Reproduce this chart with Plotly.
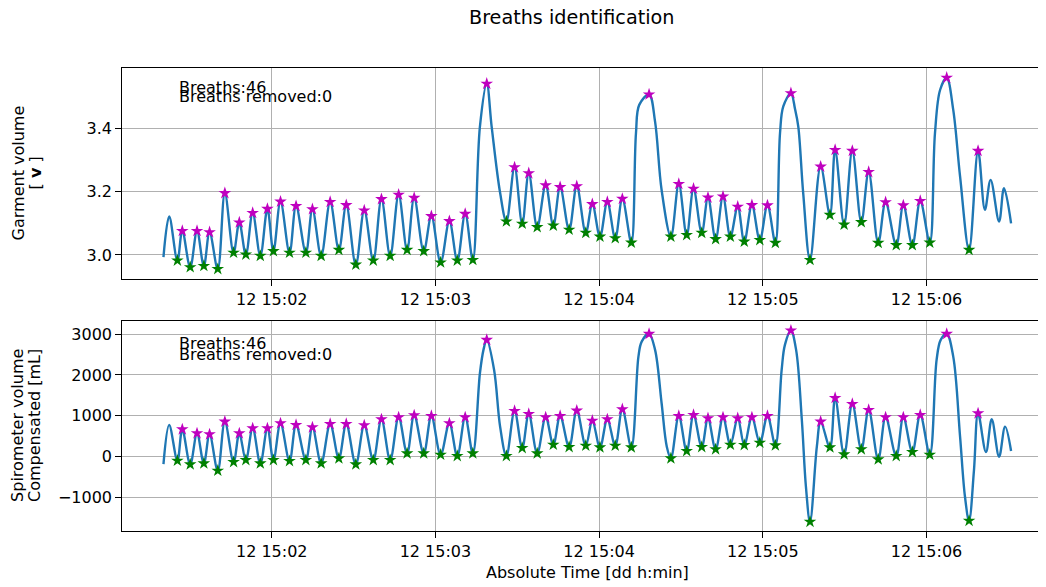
import pandas as pd
import plotly.graph_objects as go
from plotly.subplots import make_subplots

# ---------------- data (seconds after 12 15:01:00) ----------------
BASE = "2023-06-12 15:01:00"

trough_t = [25.4, 30.1, 35.1, 40.2, 46.0, 50.5, 55.8, 60.6, 66.5, 72.5,
            78.1, 84.6, 90.8, 97.2, 103.4, 109.6, 115.7, 121.9, 128.0, 133.7,
            146.0, 151.8, 157.3, 163.2, 169.0, 175.1, 180.3, 185.9, 191.8,
            206.3, 212.1, 217.6, 222.7, 228.1, 233.2, 238.9, 244.6,
            257.3, 264.6, 269.8, 276.1, 282.3, 288.9, 294.8, 301.2, 315.6]
peak_t = [27.2, 32.6, 37.2, 42.8, 48.1, 53.0, 58.4, 63.2, 68.9, 74.9,
          81.4, 87.3, 93.9, 100.2, 106.5, 112.2, 118.5, 125.1, 130.9, 138.8,
          149.0, 154.2, 160.4, 165.7, 171.8, 177.5, 183.0, 188.5, 198.3,
          209.2, 214.6, 219.9, 225.4, 230.8, 236.0, 241.7, 250.3,
          261.2, 266.5, 272.8, 278.8, 285.0, 291.5, 297.7, 307.4, 318.9]

trough_garment = [2.982, 2.961, 2.965, 2.955, 3.007, 3.001, 2.997, 3.012, 3.007, 3.007,
                  2.997, 3.016, 2.969, 2.982, 2.997, 3.016, 3.012, 2.976, 2.982, 2.984,
                  3.106, 3.099, 3.088, 3.093, 3.080, 3.070, 3.058, 3.053, 3.039,
                  3.058, 3.063, 3.070, 3.050, 3.058, 3.042, 3.047, 3.038,
                  2.984, 3.127, 3.096, 3.104, 3.038, 3.031, 3.031, 3.039, 3.016]
peak_garment = [3.076, 3.076, 3.072, 3.196, 3.103, 3.133, 3.146, 3.169, 3.155, 3.145,
                3.168, 3.158, 3.141, 3.177, 3.191, 3.181, 3.123, 3.107, 3.130, 3.543,
                3.278, 3.259, 3.221, 3.215, 3.218, 3.161, 3.168, 3.178, 3.509,
                3.225, 3.210, 3.182, 3.185, 3.153, 3.158, 3.157, 3.513,
                3.280, 3.333, 3.330, 3.263, 3.167, 3.157, 3.171, 3.562, 3.330]

trough_spiro = [-98, -187, -163, -342, -130, -81, -163, -81, -106, -81,
                -163, -41, -187, -81, -81, 82, 82, 49, 17, 82,
                17, 213, 82, 294, 237, 269, 229, 269, 229,
                -41, 139, 237, 181, 294, 286, 343, 278,
                -1591, 229, 57, 181, -65, 17, 115, 49, -1567]
peak_spiro = [670, 572, 547, 857, 572, 694, 694, 817, 776, 719,
              800, 800, 768, 915, 964, 1013, 996, 817, 964, 2857,
              1119, 1045, 964, 996, 1126, 881, 915, 1160, 3004,
              996, 1021, 940, 964, 940, 964, 996, 3084,
              857, 1437, 1290, 1143, 964, 964, 1021, 3004, 1062]

# other points of the traced signal (start, big-breath flanks, tail)
extra_t_garment = [20.3, 22.4, 136.3, 140.6, 143.7, 193.5, 194.7, 200.5, 202.9,
                   246.3, 247.5, 251.8, 253.0, 254.8, 303.1, 305.0, 309.8, 312.3,
                   321.4, 323.5, 326.6, 328.4, 331.0]
extra_garment = [2.993, 3.122, 3.407, 3.407, 3.197, 3.386, 3.476, 3.423, 3.206,
                 3.386, 3.471, 3.463, 3.407, 3.196, 3.386, 3.524, 3.460, 3.249,
                 3.143, 3.238, 3.106, 3.212, 3.100]
extra_t_spiro = [20.3, 22.4, 136.3, 137.6, 141.5, 143.7, 194.4, 195.6, 200.5, 202.9, 204.8,
                 246.9, 248.1, 252.2, 254.3, 255.8, 259.8, 303.7, 305.2, 309.8, 312.3,
                 314.1, 317.4, 321.8, 323.9, 326.6, 328.8, 331.0]
extra_spiro = [-179, 776, 2041, 2612, 2122, 735, 2448, 2815, 2612, 1307, 245,
               2122, 2734, 2612, 898, -734, 245, 2367, 2857, 2448, 490,
               -979, -326, 115, 915, 0, 735, 139]

x_range_s = [5.1, 343.8]
n_breaths = 46
n_removed = 0


def to_time(sec):
    return pd.Timestamp(BASE) + pd.to_timedelta(pd.Series(sec, dtype=float), unit="s")


def line_points(extra_t, extra_v, troughs, peaks):
    df = pd.DataFrame({
        "t": list(extra_t) + list(trough_t) + list(peak_t),
        "v": list(extra_v) + list(troughs) + list(peaks),
    }).sort_values("t")
    return to_time(df["t"].values), df["v"].values


FONT = "DejaVu Sans"
BLUE = "#1f77b4"
MAG = "#bf00bf"
GRN = "#008000"

# page body has an 8px margin -> figure sized/offset to compensate
W, H = 1038, 579
ML, MT, MB = 114, 60, 56

fig = make_subplots(rows=2, cols=1, shared_xaxes=False)

panels = [
    (1, extra_t_garment, extra_garment, trough_garment, peak_garment),
    (2, extra_t_spiro, extra_spiro, trough_spiro, peak_spiro),
]
for row, et, ev, tr, pk in panels:
    lt, lv = line_points(et, ev, tr, pk)
    fig.add_trace(go.Scatter(x=lt, y=lv, mode="lines",
                             line=dict(color=BLUE, width=2.4, shape="spline", smoothing=1.0),
                             showlegend=False, hoverinfo="skip"), row=row, col=1)
    fig.add_trace(go.Scatter(x=to_time(peak_t), y=pk, mode="markers",
                             marker=dict(symbol="star", size=9.5, color=MAG, line=dict(width=0)),
                             showlegend=False), row=row, col=1)
    fig.add_trace(go.Scatter(x=to_time(trough_t), y=tr, mode="markers",
                             marker=dict(symbol="star", size=9.5, color=GRN, line=dict(width=0)),
                             showlegend=False), row=row, col=1)

xr = list(to_time(x_range_s))
axis_common = dict(showline=True, linecolor="black", linewidth=1.3,
                   ticks="outside", ticklen=5.6, tickwidth=1.3, tickcolor="black",
                   showgrid=True, gridcolor="#b0b0b0", gridwidth=1.1, zeroline=False,
                   tickfont=dict(family=FONT, size=16, color="black"))
for r in (1, 2):
    fig.update_xaxes(range=xr, type="date", tick0="2023-06-12 15:00:00", dtick=60000,
                     tickformat="%d %H:%M", mirror=True, row=r, col=1, **axis_common)
fig.update_yaxes(range=[2.924, 3.593], tickvals=[3.0, 3.2, 3.4], tickformat=".1f",
                 mirror=False, row=1, col=1, **axis_common)
fig.update_yaxes(range=[-1816, 3322], tickvals=[-1000, 0, 1000, 2000, 3000],
                 mirror=False, row=2, col=1, **axis_common)

fig.update_layout(
    xaxis=dict(domain=[0, 1]), xaxis2=dict(domain=[0, 1]),
    yaxis=dict(domain=[0.5446, 1.0]), yaxis2=dict(domain=[0.0, 0.4539]),
)

annots = []
txt_font = dict(family=FONT, size=16, color="black")
for xr_, yr_, y1, y2 in [("x domain", "y domain", 0.909, 0.864),
                         ("x2 domain", "y2 domain", 0.893, 0.838)]:
    annots.append(dict(text=f"Breaths:{n_breaths}", xref=xr_, yref=yr_, x=0.0595, y=y1,
                       xanchor="left", yanchor="middle", showarrow=False, font=txt_font))
    annots.append(dict(text=f"Breaths removed:{n_removed}", xref=xr_, yref=yr_, x=0.0595, y=y2,
                       xanchor="left", yanchor="middle", showarrow=False, font=txt_font))

# y-axis titles (two lines each, matplotlib-like spacing)
for yref_, lines in [("y domain", ["Garment volume", "[ <b>v</b> ]"]),
                     ("y2 domain", ["Spirometer volume", "Compensated [mL]"])]:
    for shift, txt in zip([-104, -87], lines):
        annots.append(dict(text=txt, xref="paper", yref=yref_, x=0, y=0.5, xshift=shift,
                           xanchor="center", yanchor="middle", textangle=-90,
                           showarrow=False, font=txt_font))
# x-axis title
annots.append(dict(text="Absolute Time [dd h:min]", xref="paper", yref="paper",
                   x=0.5038, y=-0.0907, xanchor="center", yanchor="middle",
                   showarrow=False, font=txt_font))

fig.update_layout(
    width=W, height=H,
    margin=dict(l=ML, r=0, t=MT, b=MB),
    paper_bgcolor="white", plot_bgcolor="white",
    title=dict(text="Breaths identification", x=(571.7 - 8) / W, xref="container",
               xanchor="center", y=1 - (17 - 8) / H, yref="container", yanchor="middle",
               font=dict(family=FONT, size=19.2, color="black")),
    annotations=annots,
    showlegend=False,
)

fig.write_html("out.html")
